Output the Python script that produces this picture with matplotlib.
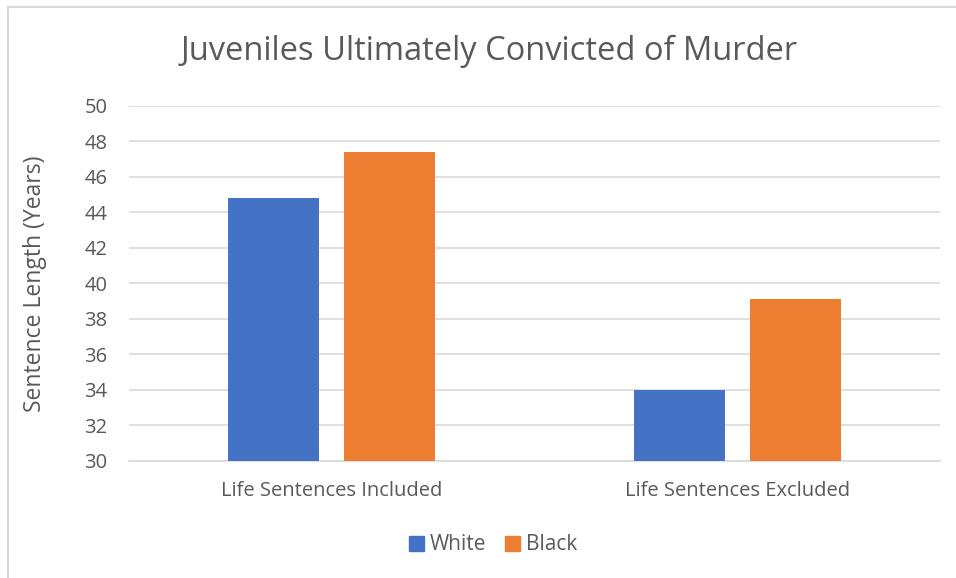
import matplotlib
matplotlib.use("Agg")
import matplotlib.pyplot as plt
from matplotlib.lines import Line2D
from matplotlib.patches import Patch
import numpy as np

plt.rcParams['font.family'] = ['Open Sans', 'DejaVu Sans']

categories = ["Life Sentences Included", "Life Sentences Excluded"]
series_names = ["White", "Black"]
white_vals = [44.8, 34.0]
black_vals = [47.4, 39.1]
yticks = list(range(30, 51, 2))

text_color = "#595959"
colors = ["#4472C4", "#ED7D31"]

fig = plt.figure(figsize=(9.56, 5.78), dpi=100)
ax = fig.add_axes([129/956, 1 - 460.5/578, (940-129)/956, (460.5-106)/578])

x = np.arange(len(categories))
bw = 0.224
off = 0.143
ax.bar(x - off, white_vals, bw, color=colors[0], zorder=3)
ax.bar(x + off, black_vals, bw, color=colors[1], zorder=3)

ax.set_ylim(30, 50)
ax.set_xlim(-0.5, 1.5)
ax.set_yticks(yticks)
ax.set_yticklabels([str(t) for t in yticks], fontsize=14.5, color=text_color)
ax.set_xticks(x)
ax.set_xticklabels(categories, fontsize=14.5, color=text_color)
ax.tick_params(axis='both', length=0)
ax.tick_params(axis='y', pad=15.5)
ax.tick_params(axis='x', pad=15)
ax.grid(axis='y', color="#D9D9D9", linewidth=1.2, zorder=0)
for s in ["top", "right", "left"]:
    ax.spines[s].set_visible(False)
ax.spines["bottom"].set_color("#D9D9D9")
ax.spines["bottom"].set_linewidth(1.2)

ax.set_ylabel("Sentence Length (Years)", fontsize=16.5, color=text_color)
ax.yaxis.set_label_coords(-(129-47)/811, 0.5)

fig.text(489/956, 1 - 51/578, "Juveniles Ultimately Convicted of Murder",
         fontsize=23.5, color=text_color, ha='center', va='center')

handles = [Patch(color=c) for c in colors]
fig.legend(handles, series_names, loc='center', bbox_to_anchor=(493/956, 1 - 545/578),
           ncol=2, frameon=False, fontsize=15, labelcolor=text_color,
           handlelength=0.7, handleheight=0.7, handletextpad=0.3, columnspacing=0.9)

# outer frame lines (left and top)
fig.add_artist(Line2D([8/956, 8/956], [0, 1 - 7/578], transform=fig.transFigure, color="#D9D9D9", lw=1.5))
fig.add_artist(Line2D([8/956, 1], [1 - 7/578, 1 - 7/578], transform=fig.transFigure, color="#D9D9D9", lw=1.5))

fig.savefig("out.png", dpi=100)
